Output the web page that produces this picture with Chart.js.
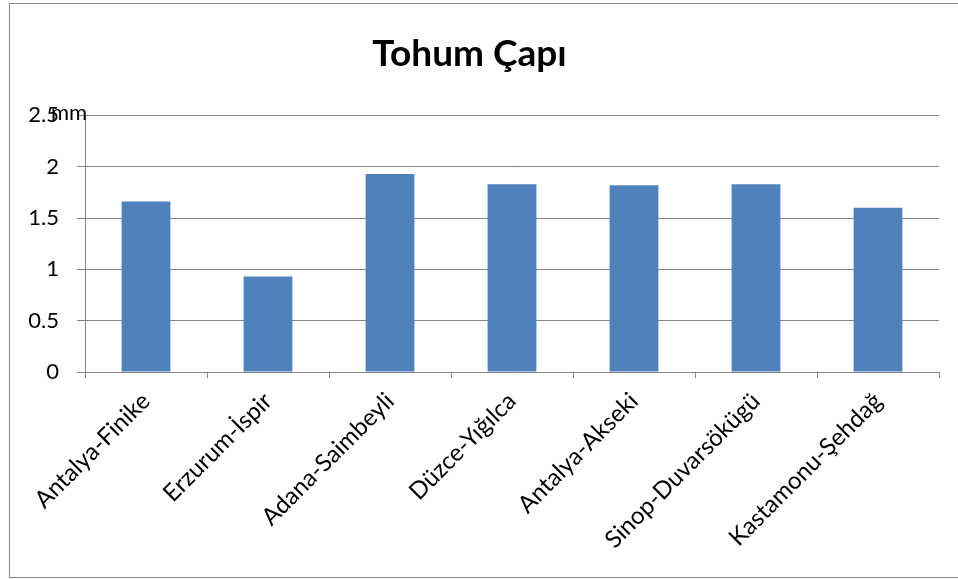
<!DOCTYPE html>
<html>
<head>
<meta charset="utf-8">
<script src="https://cdn.jsdelivr.net/npm/chart.js@4"></script>
<style>
    html, body { margin: 0; padding: 0; background: #fff; overflow: hidden; }
    #wrap { position: relative; width: 958px; height: 579px; }
    #frame { position: absolute; left: 9px; top: 3px; width: 980px; height: 573px; border: 1px solid #878787; pointer-events: none; }
</style>
</head>
<body>
<div id="wrap">
    <canvas id="myChart" width="958" height="579"></canvas>
    <div id="frame"></div>
</div>
<script>
const categories = ['Antalya-Finike', 'Erzurum-İspir', 'Adana-Saimbeyli', 'Düzce-Yığılca', 'Antalya-Akseki', 'Sinop-Duvarsökügü', 'Kastamonu-Şehdağ'];
const seedDiameter = [1.66, 0.93, 1.93, 1.83, 1.82, 1.83, 1.60];
const yTicks = [0, 0.5, 1, 1.5, 2, 2.5];
const chartTitle = 'Tohum Çapı';
const unitLabel = 'mm';

const gridColor = '#858585';
const fontName = 'Lato, "Open Sans", sans-serif';

// "mm" sits at the top left, over the 2.5 label, like the original
const unitPlugin = {
    id: 'unitLabel',
    afterDraw(chart) {
        const ctx = chart.ctx;
        ctx.save();
        ctx.font = '22px ' + fontName;
        ctx.fillStyle = '#000';
        ctx.textAlign = 'left';
        ctx.textBaseline = 'middle';
        ctx.fillText(unitLabel, 51, chart.chartArea.top - 2);
        ctx.restore();
    }
};

const ctx = document.getElementById('myChart');

new Chart(ctx, {
    type: 'bar',
    data: {
        labels: categories,
        datasets: [{
            label: chartTitle,
            data: seedDiameter,
            backgroundColor: '#4f81bd',
            borderWidth: 0,
            barPercentage: 0.4,
            categoryPercentage: 1
        }]
    },
    options: {
        responsive: false,
        animation: false,
        layout: {
            padding: { left: 0, right: 19, top: 0, bottom: 0 }
        },
        plugins: {
            legend: { display: false },
            tooltip: { enabled: false },
            title: {
                display: true,
                text: chartTitle,
                color: '#000',
                font: { family: fontName, size: 37, weight: 'bold' },
                padding: { top: 32, bottom: 39 }
            }
        },
        scales: {
            x: {
                afterFit(axis) {
                    // let the first label hang out to the left like the original
                    axis.paddingLeft = 0;
                    axis.paddingRight = 0;
                    axis.height = 207;
                },
                grid: {
                    offset: true,
                    drawOnChartArea: false,
                    color: gridColor,
                    tickLength: 6
                },
                border: { color: gridColor },
                ticks: {
                    color: '#000',
                    font: { family: fontName, size: 24 },
                    minRotation: 45,
                    maxRotation: 45,
                    padding: 9
                }
            },
            y: {
                min: yTicks[0],
                max: yTicks[yTicks.length - 1],
                afterBuildTicks(axis) {
                    axis.ticks = yTicks.map((v) => ({ value: v }));
                },
                afterFit(axis) {
                    axis.width = 85;
                },
                grid: {
                    color: gridColor,
                    tickLength: 8
                },
                border: { color: gridColor },
                ticks: {
                    color: '#000',
                    font: { family: fontName, size: 22 },
                    padding: 18,
                    callback: (value) => String(value)
                }
            }
        }
    },
    plugins: [unitPlugin]
});
</script>
</body>
</html>
